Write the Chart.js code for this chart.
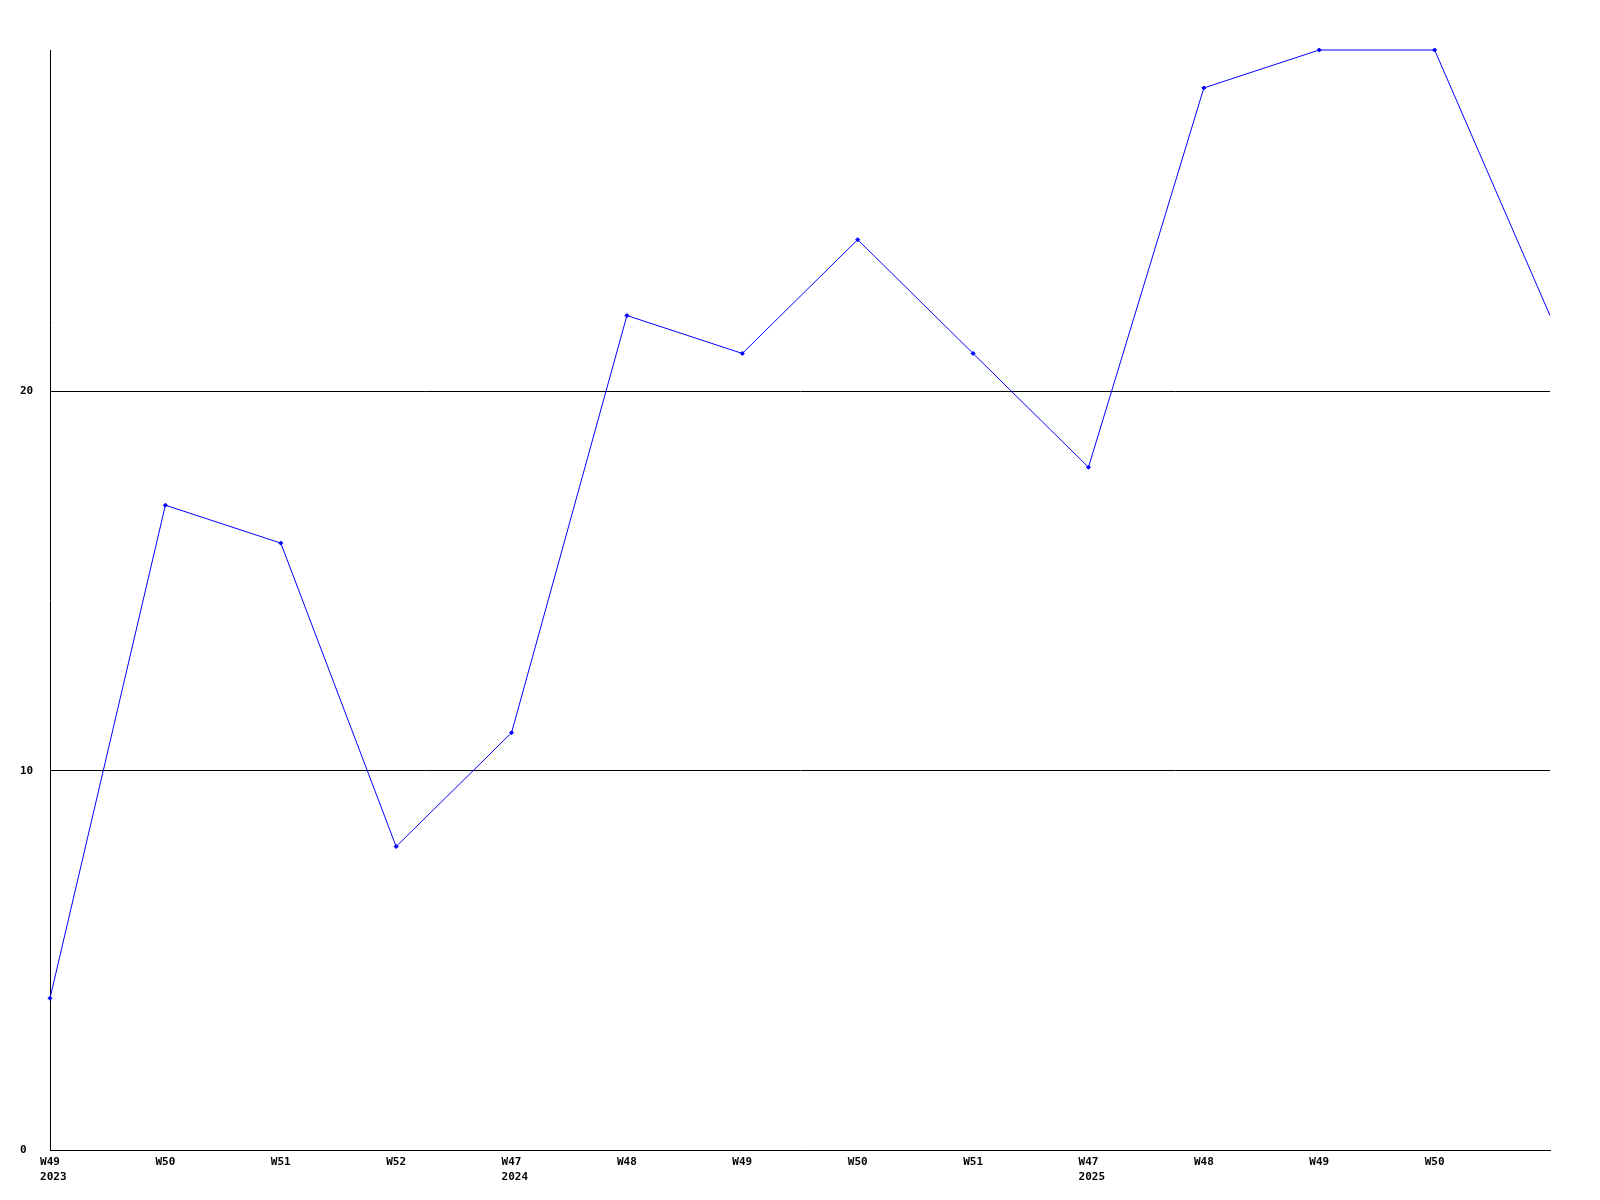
<!DOCTYPE html>
<html>
<head>
<meta charset="utf-8">
<script src="https://cdn.jsdelivr.net/npm/chart.js@4/dist/chart.umd.min.js"></script>
<style>
  html, body { margin: 0; padding: 0; background: #fff; }
  canvas { display: block; }
</style>
</head>
<body>
<canvas id="chart" width="1600" height="1200"></canvas>
<script>
// weeks on the x axis (second line = year, only where it changes)
const weeks = ["W49", "W50", "W51", "W52", "W47", "W48", "W49", "W50", "W51", "W47", "W48", "W49", "W50", ""];
const years = ["2023", "", "", "", "2024", "", "", "", "", "2025", "", "", "", ""];
const values = [4, 17, 16, 8, 11, 22, 21, 24, 21, 18, 28, 29, 29, 22];
const yTicks = [0, 10, 20];
const yMax = 29;

// leading space keeps the year flush with the week label above it
const labels = weeks.map((w, i) => years[i] ? [w, " " + years[i]] : w);
const tickFont = { family: "'DejaVu Sans Mono', monospace", size: 11, weight: "bold", lineHeight: 1.4 };

const ctx = document.getElementById("chart").getContext("2d");
new Chart(ctx, {
  type: "line",
  data: {
    labels,
    datasets: [{
      data: values,
      borderColor: "#0000ff",
      backgroundColor: "#0000ff",
      borderWidth: 1,
      pointStyle: "rectRot",
      pointRadius: (c) => c.dataIndex === values.length - 1 ? 0 : 2,
      pointBorderWidth: 1,
      tension: 0,
      fill: false,
      clip: false
    }]
  },
  options: {
    responsive: false,
    animation: false,
    layout: { padding: { top: 50, right: 50, left: 20, bottom: 0 } },
    plugins: { legend: { display: false }, tooltip: { enabled: false } },
    scales: {
      x: {
        offset: false,
        grid: { display: false, drawTicks: false },
        border: { display: true, color: "#000", width: 1 },
        ticks: { autoSkip: false, maxRotation: 0, color: "#000", font: tickFont, padding: 4 },
        afterFit: (axis) => { axis.height = 50; }
      },
      y: {
        min: 0,
        max: yMax,
        grid: { color: "#000", lineWidth: 1, drawTicks: false },
        border: { display: true, color: "#000", width: 1 },
        ticks: { color: "#000", font: tickFont, crossAlign: "far" },
        afterBuildTicks: (axis) => { axis.ticks = yTicks.map(v => ({ value: v })); },
        afterFit: (axis) => { axis.width = 30; }
      }
    }
  }
});
</script>
</body>
</html>
